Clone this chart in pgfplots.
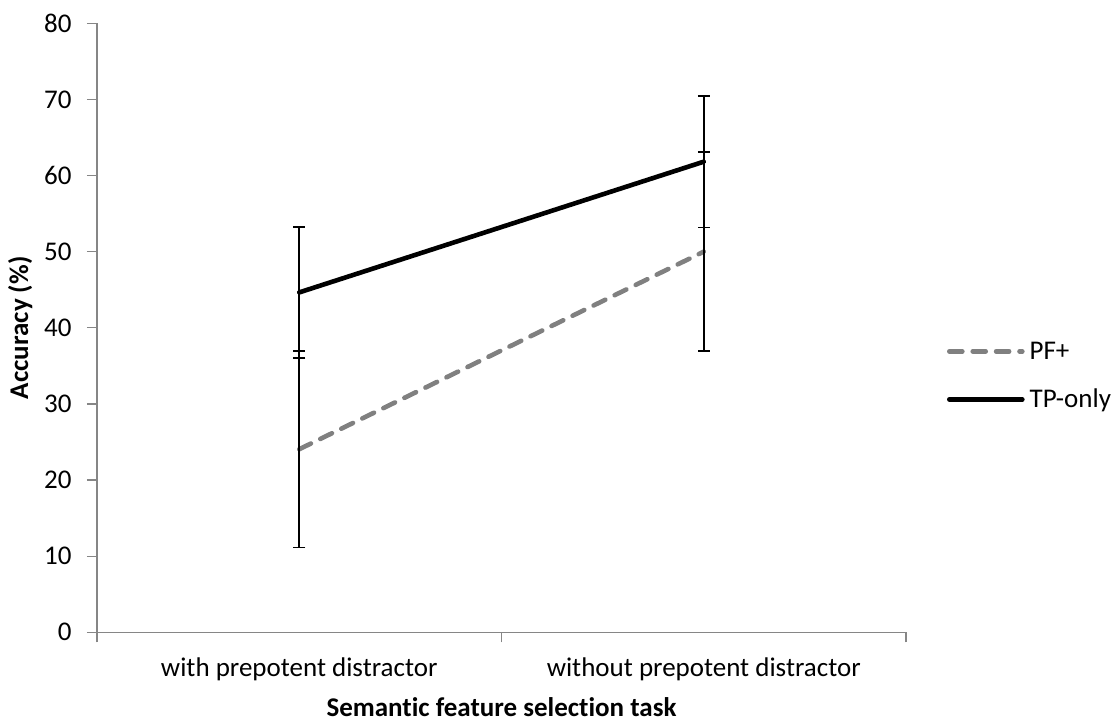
\documentclass[border=0pt]{standalone}
\usepackage{fontspec}
\setmainfont{Carlito}[Ligatures=NoCommon]
\usepackage{pgfplots}
\pgfplotsset{compat=1.18}
\definecolor{axgray}{RGB}{134,134,134}
\definecolor{pfgray}{RGB}{128,128,128}
\begin{document}
\begin{tikzpicture}
\useasboundingbox (0,0) rectangle (557pt,360.5pt);
\begin{axis}[
  at={(48.5pt,44.35pt)}, anchor=south west,
  scale only axis, width=404.5pt, height=304.5pt,
  xmin=0, xmax=2, ymin=0, ymax=80,
  axis x line*=bottom, axis y line*=left,
  axis line style={draw=axgray, line width=0.6pt, -},
  every tick/.style={draw=axgray, line width=0.6pt},
  tick align=outside, major tick length=5pt,
  /pgf/number format/assume math mode=true,
  every tick label/.append style={font=\fontsize{13.5}{16}\selectfont},
  ytick={0,10,...,80},
  yticklabel style={anchor=east, inner sep=0pt, xshift=-7.5pt},
  xtick={0,1,2}, xticklabels={,,},
  extra x ticks={0.5,1.5},
  extra x tick labels={with prepotent distractor, without prepotent distractor},
  extra x tick style={major tick length=0pt},
  xticklabel style={anchor=north, inner sep=0pt, text height=10pt, text depth=3pt, yshift=-12pt},
  ylabel={\bfseries Accuracy (\%)},
  ylabel style={at={(axis description cs:-0.095,0.5)}, anchor=center, font=\fontsize{13.5}{16}\selectfont},
  xlabel={\bfseries Semantic feature selection task},
  xlabel style={at={(axis description cs:0.5,-0.1375)}, anchor=base, inner sep=0pt, font=\fontsize{13.5}{16}\selectfont},
  legend style={at={(axis description cs:1.0507,0.419)}, anchor=west, draw=none, fill=none,
    inner sep=0pt, outer sep=0pt, column sep=2.5pt, row sep=11.5pt,
    nodes={inner sep=0pt, text height=9.5pt, text depth=3pt},
    font=\fontsize{13.5}{16}\selectfont},
  legend cell align=left,
  legend image code/.code={\draw[#1] (0pt,0.9pt) -- (36.5pt,0.9pt);},
]
\addplot[pfgray, line width=2.3pt, line cap=round, dash pattern=on 6.5pt off 5.2pt, mark=none,
  error bars/.cd, y dir=both, y explicit, error mark=|,
  error bar style={black, line width=0.85pt, solid, line cap=butt},
  error mark options={black, mark size=3pt, line width=0.85pt, solid}]
  coordinates {(0.5,24.05) +- (0,12.9) (1.5,50.0) +- (0,13.05)};
\addlegendentry{PF+}
\addplot[black, line width=2.3pt, line cap=round, mark=none,
  error bars/.cd, y dir=both, y explicit, error mark=|,
  error bar style={black, line width=0.85pt, solid, line cap=butt},
  error mark options={black, mark size=3pt, line width=0.85pt, solid}]
  coordinates {(0.5,44.65) +- (0,8.6) (1.5,61.82) +- (0,8.63)};
\addlegendentry{TP-only}
\end{axis}
\end{tikzpicture}
\end{document}
